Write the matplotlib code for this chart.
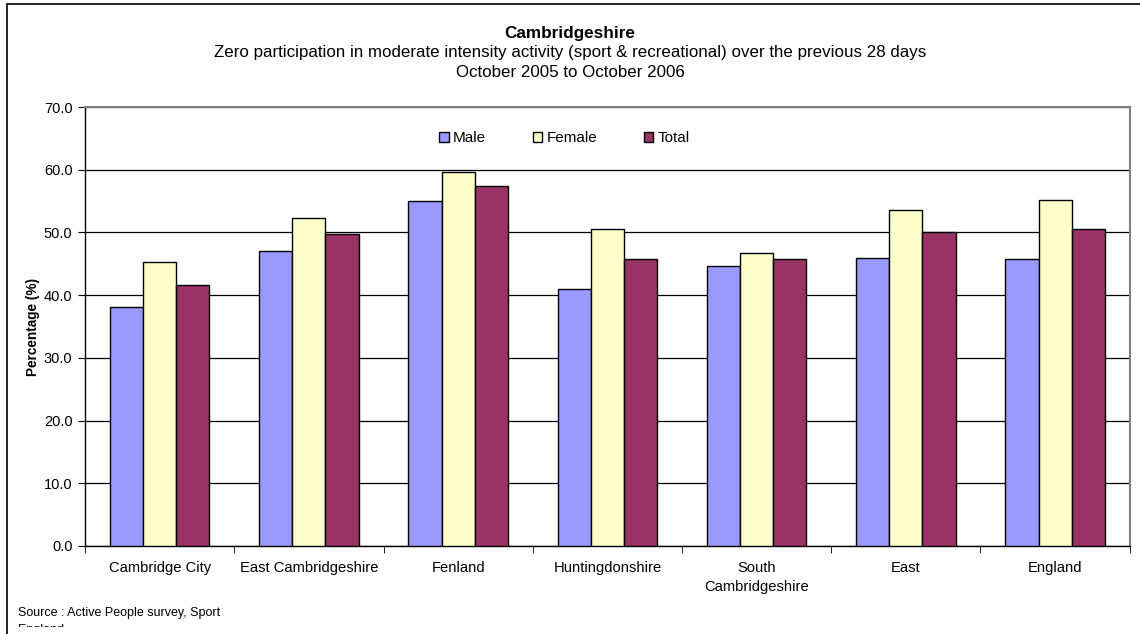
import matplotlib.pyplot as plt
import matplotlib.patches as mpatches
from matplotlib.transforms import Bbox
import numpy as np

plt.rcParams['font.family'] = ['Liberation Sans', 'DejaVu Sans']

# raw data
areas = ['Cambridge City', 'East Cambridgeshire', 'Fenland', 'Huntingdonshire',
         'South\nCambridgeshire', 'East', 'England']
male = [38.1, 47.0, 55.0, 41.0, 44.7, 46.0, 45.8]
female = [45.3, 52.3, 59.7, 50.5, 46.7, 53.6, 55.2]
total = [41.6, 49.7, 57.4, 45.8, 45.7, 50.0, 50.6]
yticks = [0, 10, 20, 30, 40, 50, 60, 70]

fig = plt.figure(figsize=(11.4, 6.34), dpi=100)
ax = fig.add_axes([0.0746, 0.139, 0.9164, 0.692])

# outer chart border (runs off the right and bottom of the picture)
fig.patches.append(mpatches.Rectangle((0.006, -0.2), 1.2, 1.194, transform=fig.transFigure,
                                      fill=False, edgecolor='black', linewidth=1.2))

x = np.arange(len(areas))
w = 0.222
ax.bar(x - w, male, w, color='#9999FF', edgecolor='black', linewidth=1, label='Male', zorder=3)
ax.bar(x, female, w, color='#FFFFCC', edgecolor='black', linewidth=1, label='Female', zorder=3)
ax.bar(x + w, total, w, color='#993366', edgecolor='black', linewidth=1, label='Total', zorder=3)

ax.set_xlim(-0.5, len(areas) - 0.5)
ax.set_ylim(0, 70)
ax.set_yticks(yticks, [f'{v:.1f}' for v in yticks], fontsize=10.5)
ax.set_xticks(x, areas, fontsize=10.6, linespacing=1.45)
ax.tick_params(axis='x', length=0, pad=11)
ax.set_xticks(np.arange(len(areas) + 1) - 0.5, minor=True)
ax.tick_params(axis='x', which='minor', length=5, direction='out')
ax.tick_params(axis='y', length=5, direction='out', pad=4)
ax.yaxis.grid(True, color='black', linewidth=0.9, zorder=0)
ax.set_axisbelow(True)
for s in ['top', 'right']:
    ax.spines[s].set_color('#808080')
    ax.spines[s].set_linewidth(1.5)
ax.spines['left'].set_linewidth(1)
ax.spines['bottom'].set_linewidth(1)

ax.set_ylabel('Percentage (%)', fontsize=9.8, fontweight='bold', labelpad=3)

ax.legend(loc='upper center', bbox_to_anchor=(0.459, 0.976), ncol=3, frameon=False,
          fontsize=11, handlelength=0.6, handleheight=0.6, handletextpad=0.3,
          columnspacing=3.04)

fig.text(0.5, 0.947, 'Cambridgeshire', ha='center', va='center', fontsize=12.3, fontweight='bold')
fig.text(0.5, 0.917, 'Zero participation in moderate intensity activity (sport & recreational) over the previous 28 days',
         ha='center', va='center', fontsize=12.2)
fig.text(0.5, 0.885, 'October 2005 to October 2006', ha='center', va='center', fontsize=12.2)

# source note: its second line is cut off by the text box, as in the original
src = fig.text(0.016, 0.043, 'Source : Active People survey, Sport\nEngland', fontsize=9,
               va='top', linespacing=1.55)
src.set_clip_box(Bbox([[0, 7], [1140, 634]]))
src.set_clip_on(True)

plt.savefig('out.png', dpi=100)
